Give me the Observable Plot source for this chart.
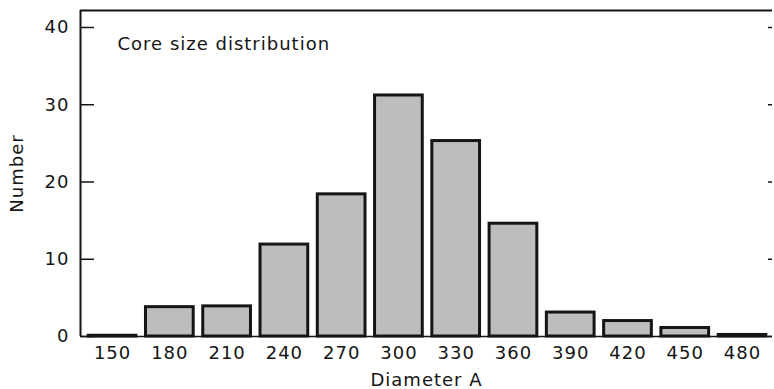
<!DOCTYPE html>
<html>
<head>
<meta charset="utf-8">
<script src="https://cdn.jsdelivr.net/npm/d3@7"></script>
<script src="https://cdn.jsdelivr.net/npm/@observablehq/plot@0.6"></script>
<style>
  html, body { margin: 0; padding: 0; background: #fff; }
  #chart svg { display: block; }
  #chart svg text { letter-spacing: 1px; }
</style>
</head>
<body>
<div id="chart"></div>
<script>
// Data
const diameters = [150, 180, 210, 240, 270, 300, 330, 360, 390, 420, 450, 480];
const counts    = [0.1, 3.8, 3.9, 11.9, 18.4, 31.2, 25.3, 14.6, 3.1, 2.0, 1.1, 0.2];
const yTicks = [0, 10, 20, 30, 40];
const xTicks = diameters;
const titleText = "Core size distribution";
const xLabel = "Diameter A";
const yLabel = "Number";

const table = diameters.map((d, i) => ({diameter: d, count: counts[i]}));
const halfBin = 12.5;
const W = 774, H = 389;
const mL = 80, mR = 2, mT = 10, mB = 53;
const innerW = W - mL - mR;
const xDomain = [133.2, 495.7];
const yDomain = [0, 42.2];
const ink = "#151515";
const font = "'DejaVu Sans', sans-serif";

const chart = Plot.plot({
  width: W,
  height: H,
  marginLeft: mL,
  marginRight: mR,
  marginTop: mT,
  marginBottom: mB,
  style: {fontFamily: font, fontSize: "18px", color: ink, background: "#fff"},
  x: {domain: xDomain},
  y: {domain: yDomain},
  marks: [
    Plot.ruleY([0], {stroke: ink, strokeWidth: 1.5}),
    Plot.rectY(table, {
      x1: d => d.diameter - halfBin,
      x2: d => d.diameter + halfBin,
      y1: 0,
      y2: "count",
      fill: "#bdbdbd",
      stroke: ink,
      strokeWidth: 3
    }),
    Plot.ruleX([xDomain[0]], {stroke: ink, strokeWidth: 2}),
    Plot.ruleY([yDomain[1]], {stroke: ink, strokeWidth: 2}),
    Plot.tickY(yTicks, {y: d => d, insetRight: innerW - 14, stroke: ink, strokeWidth: 1.5}),
    Plot.tickY(yTicks, {y: d => d, insetLeft: innerW - 4, stroke: ink, strokeWidth: 1.5}),
    Plot.axisY({ticks: yTicks, tickSize: 0, tickPadding: 11, fontSize: 18,
      label: yLabel, labelAnchor: "center", labelOffset: 70, labelArrow: "none"}),
    Plot.axisX({ticks: xTicks, tickSize: 0, tickPadding: 10, fontSize: 18,
      tickFormat: d => String(d),
      label: xLabel, labelAnchor: "center", labelOffset: 49, labelArrow: "none"}),
    Plot.text([titleText], {frameAnchor: "top-left", dx: 37, dy: 27, lineAnchor: "top",
      textAnchor: "start", fontSize: 18, fill: ink})
  ]
});
document.getElementById("chart").appendChild(chart);
</script>
</body>
</html>
